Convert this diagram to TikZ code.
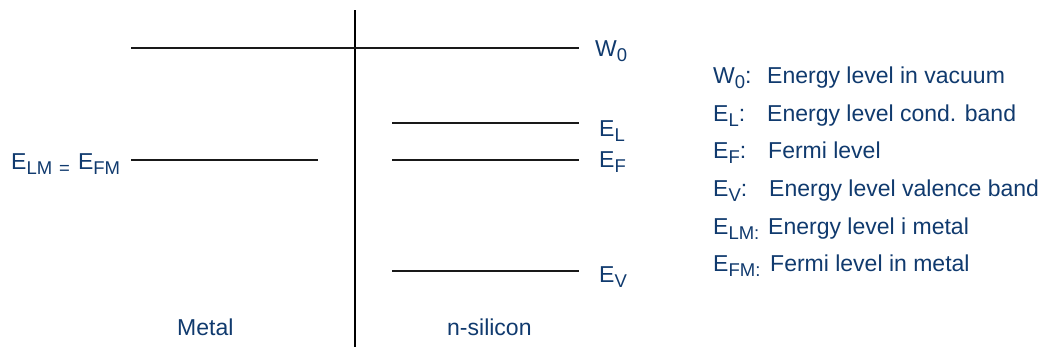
\documentclass[tikz,border=0pt]{standalone}
\usepackage{fontspec}
\setmainfont{Liberation Sans}
\definecolor{txt}{RGB}{16,58,110}
\newcommand\sbs[1]{\raisebox{-5.5pt}{\fontsize{18.5}{18.5}\selectfont #1}}
\begin{document}
\begin{tikzpicture}[x=1pt,y=-1pt,
  lbl/.style={text=txt, font=\fontsize{23}{27}\selectfont, inner sep=0pt, anchor=base west},
  level/.style={line width=1.6pt, draw=black!90},
  wall/.style={line width=2.8pt, draw=black}]
\useasboundingbox (0,0) rectangle (1051,351);
% coordinates
\coordinate (vt) at (355,10);
\coordinate (vb) at (355,347);
\coordinate (w0a) at (131,48);  \coordinate (w0b) at (579,48);
\coordinate (ma) at (131,160);  \coordinate (mb) at (318,160);
\coordinate (ela) at (392,123); \coordinate (elb) at (579,123);
\coordinate (efa) at (392,160); \coordinate (efb) at (579,160);
\coordinate (eva) at (392,271); \coordinate (evb) at (579,271);
\draw[wall] (vt) -- (vb);
\draw[level] (w0a) -- (w0b);
\draw[level] (ma) -- (mb);
\draw[level] (ela) -- (elb);
\draw[level] (efa) -- (efb);
\draw[level] (eva) -- (evb);
% level labels
\node[lbl] (lw0) at (595,56) {W\sbs{0}};
\node[lbl] (lel) at (599,136) {E\sbs{L}};
\node[lbl] (lef) at (599,167) {E\sbs{F}};
\node[lbl] (lev) at (599,282) {E\sbs{V}};
\node[lbl] (lm) at (11,169) {E\sbs{LM\hspace{7pt}=\hspace{8pt}}E\sbs{FM}};
% region labels
\node[lbl] (metal) at (177,335) {Metal};
\node[lbl] (nsi) at (447,335) {n-silicon};
% legend
\node[lbl] (k1) at (713,83)  {W\sbs{0}:};
\node[lbl] (d1) at (767,83)  {Energy level in vacuum};
\node[lbl] (k2) at (713,121) {E\sbs{L}:};
\node[lbl] (d2) at (767,121) {Energy level cond. band};
\node[lbl] (k3) at (713,158) {E\sbs{F}:};
\node[lbl] (d3) at (768,158) {Fermi level};
\node[lbl] (k4) at (713,196) {E\sbs{V}:};
\node[lbl] (d4) at (769,196) {Energy level valence band};
\node[lbl] (k5) at (713,234) {E\sbs{LM:}};
\node[lbl] (d5) at (768,234) {Energy level i metal};
\node[lbl] (k6) at (713,271) {E\sbs{FM:}};
\node[lbl] (d6) at (770,271) {Fermi level in metal};
\end{tikzpicture}
\end{document}
